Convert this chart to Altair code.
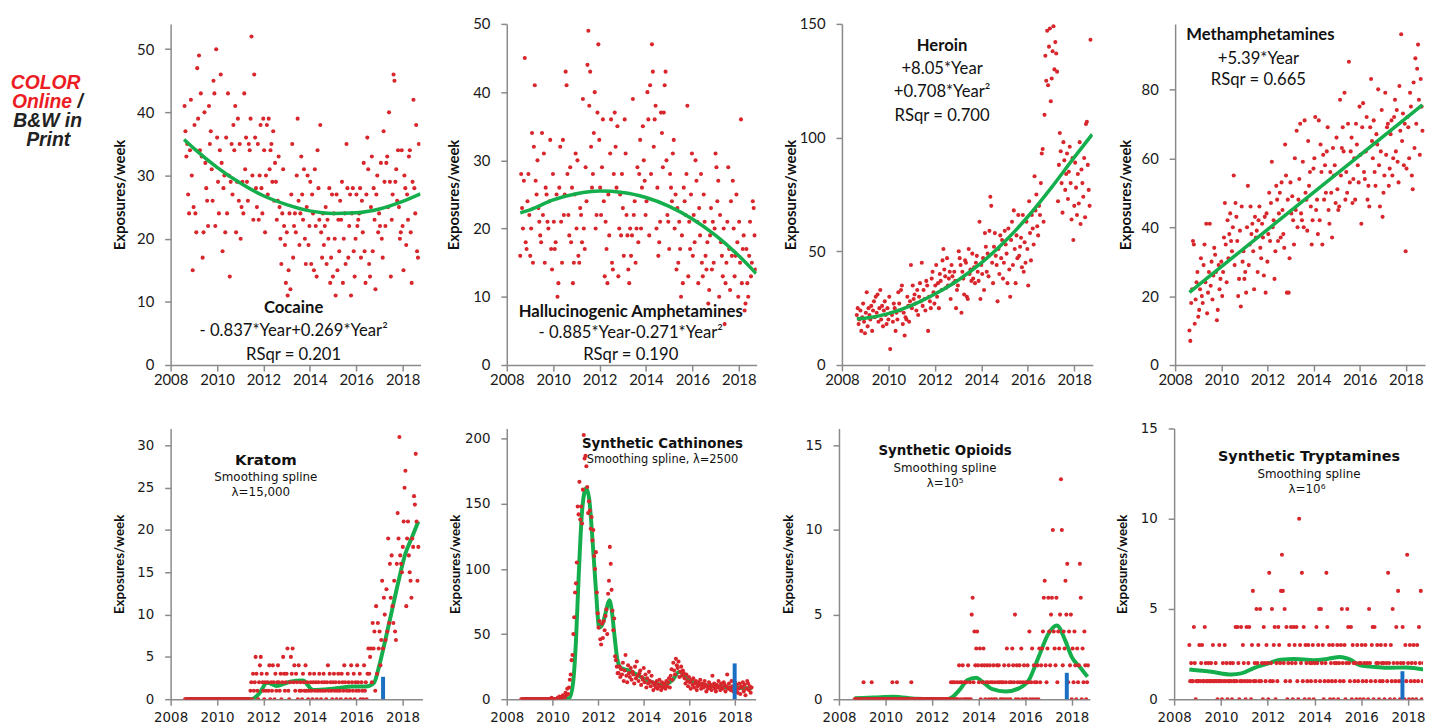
import altair as alt
import numpy as np
import pandas as pd

RED = "#d8262c"
GREEN = "#14ae4c"
BLUE = "#1b6fc2"
AXC = "#8a8a8a"

YEARS = list(range(2008, 2019))

# ---------------- weekly exposures (roughly bi-weekly) ----------------
cocaine = [
    41, 37, 33, 35, 27, 24, 34, 42, 30, 15, 25, 38, 24, 21, 47, 39, 49, 34, 43, 33, 17, 21, 40, 32, 28, 26,
    22, 41, 35, 37, 31, 26, 45, 43, 22, 50, 36, 29, 24, 34, 46, 32, 18, 28, 30, 21, 36, 24, 43, 30, 14, 29,
    35, 27, 38, 34, 41, 21, 29, 39, 26, 35, 20, 25, 29, 24, 43, 31, 36, 29, 26, 35, 34, 39, 52, 30, 23, 46,
    36, 28, 25, 35, 23, 30, 38, 28, 24, 39, 34, 21, 30, 38, 27, 39, 31, 34, 35, 29, 37, 26, 32, 29, 23, 26,
    33, 25, 20, 16, 24, 31, 22, 19, 13, 21, 11, 15, 24, 12, 27, 35, 17, 22, 24, 21, 30, 39, 26, 19, 24, 33,
    27, 23, 31, 20, 16, 25, 30, 19, 22, 29, 16, 27, 24, 15, 31, 22, 14, 34, 28, 23, 38, 21, 17, 24, 19, 22,
    25, 16, 23, 20, 28, 13, 17, 27, 14, 24, 20, 11, 27, 15, 23, 18, 26, 23, 29, 13, 20, 24, 16, 35, 28, 17,
    22, 27, 11, 24, 28, 18, 14, 20, 27, 22, 23, 24, 28, 17, 26, 21, 32, 18, 13, 27, 36, 31, 16, 14, 25, 33,
    18, 28, 23, 12, 27, 30, 21, 24, 22, 32, 20, 17, 37, 29, 22, 32, 33, 25, 40, 29, 14, 23, 27, 46, 45, 29,
    31, 26, 34, 25, 20, 21, 34, 22, 15, 30, 28, 19, 27, 23, 33, 34, 21, 13, 29, 42, 28, 24, 38, 18, 17, 35,
]
hallu = [
    16, 28, 23, 20, 27, 45, 18, 17, 24, 28, 22, 16, 20, 34, 15, 32, 41, 27, 25, 30, 23, 21, 19, 18, 34, 22,
    31, 15, 26, 25, 21, 20, 24, 33, 17, 14, 28, 21, 17, 18, 25, 10, 12, 26, 32, 21, 15, 33, 22, 25, 43, 41,
    28, 22, 19, 29, 18, 26, 12, 15, 25, 31, 20, 30, 16, 15, 23, 22, 18, 39, 20, 17, 29, 24, 44, 49, 38, 43,
    32, 26, 28, 34, 40, 20, 22, 37, 47, 33, 26, 22, 29, 36, 24, 13, 21, 17, 12, 25, 19, 31, 36, 15, 14, 28,
    37, 32, 26, 35, 13, 20, 25, 19, 28, 23, 16, 36, 31, 22, 19, 14, 12, 20, 16, 19, 39, 22, 24, 15, 20, 29,
    18, 28, 33, 20, 26, 35, 30, 27, 22, 24, 40, 36, 19, 41, 28, 47, 43, 32, 36, 38, 20, 26, 16, 18, 21, 37,
    34, 29, 37, 41, 43, 30, 22, 21, 17, 28, 26, 24, 31, 33, 20, 25, 14, 23, 15, 21, 17, 10, 19, 12, 26, 24,
    22, 28, 38, 13, 21, 17, 25, 31, 16, 22, 18, 30, 27, 21, 12, 23, 19, 28, 15, 13, 25, 21, 16, 14, 18, 9,
    11, 19, 23, 14, 21, 15, 20, 31, 29, 24, 27, 10, 22, 18, 16, 13, 20, 6, 12, 15, 21, 29, 17, 11, 24, 16,
    27, 20, 13, 16, 25, 18, 10, 21, 15, 36, 12, 17, 19, 8, 9, 17, 12, 10, 16, 21, 13, 15, 24, 23, 19, 14,
]
heroin = [
    22, 25, 18, 20, 24, 15, 21, 27, 19, 14, 23, 32, 17, 25, 22, 20, 26, 15, 24, 28, 21, 30, 23, 31, 19, 25,
    33, 20, 26, 17, 24, 28, 22, 18, 25, 20, 30, 7, 23, 22, 19, 27, 25, 15, 23, 20, 32, 27, 24, 33, 35, 18,
    23, 13, 21, 20, 30, 26, 19, 28, 44, 25, 35, 29, 31, 27, 24, 33, 22, 30, 36, 28, 45, 26, 33, 29, 24, 37,
    35, 15, 30, 28, 25, 38, 41, 32, 27, 35, 44, 30, 36, 25, 40, 37, 33, 46, 51, 42, 39, 34, 47, 35, 38, 41,
    29, 44, 39, 36, 41, 37, 25, 33, 35, 50, 47, 44, 23, 41, 38, 31, 46, 45, 30, 29, 51, 40, 42, 37, 49, 38,
    43, 36, 45, 48, 41, 37, 63, 29, 44, 40, 47, 33, 58, 52, 41, 49, 39, 59, 74, 70, 45, 36, 52, 58, 48, 44,
    28, 51, 40, 57, 47, 55, 38, 45, 59, 53, 49, 36, 60, 42, 30, 55, 63, 44, 68, 51, 36, 57, 47, 66, 48, 52,
    56, 43, 66, 41, 54, 45, 63, 51, 35, 72, 58, 46, 66, 60, 53, 83, 68, 75, 61, 57, 70, 66, 80, 93, 95, 63,
    110, 136, 125, 147, 123, 140, 148, 116, 126, 138, 149, 130, 142, 137, 129, 72, 88, 102, 94, 80, 67, 98, 90, 77, 84, 93,
    73, 85, 96, 80, 64, 91, 55, 70, 89, 78, 66, 84, 71, 98, 62, 86, 80, 74, 91, 65, 106, 107, 88, 77, 70, 143,
]
meth = [
    10, 7, 18, 22, 36, 35, 12, 19, 24, 27, 14, 16, 22, 31, 20, 18, 29, 35, 24, 41, 15, 21, 27, 41, 23, 30,
    19, 26, 34, 32, 27, 13, 16, 29, 22, 25, 30, 20, 27, 37, 47, 35, 24, 42, 31, 38, 44, 36, 33, 40, 55, 29,
    47, 43, 36, 20, 25, 39, 17, 46, 30, 33, 25, 27, 21, 40, 52, 29, 35, 46, 38, 41, 33, 22, 43, 37, 39, 27,
    42, 46, 34, 31, 41, 37, 26, 43, 21, 44, 30, 38, 50, 36, 47, 59, 40, 42, 25, 33, 52, 48, 36, 44, 50, 37,
    53, 45, 38, 34, 64, 55, 21, 48, 21, 31, 53, 44, 49, 42, 35, 60, 45, 68, 40, 48, 54, 70, 44, 42, 59, 40,
    71, 50, 48, 39, 65, 52, 56, 46, 35, 42, 57, 60, 72, 45, 48, 38, 71, 42, 64, 56, 35, 61, 48, 58, 50, 62,
    69, 45, 41, 56, 50, 37, 63, 55, 58, 47, 66, 51, 45, 46, 77, 55, 63, 69, 62, 79, 48, 56, 50, 70, 88, 53,
    62, 66, 47, 54, 60, 48, 70, 64, 58, 53, 75, 61, 41, 69, 76, 56, 54, 62, 72, 48, 52, 46, 69, 83, 65, 60,
    71, 56, 52, 67, 64, 80, 58, 46, 62, 74, 43, 50, 55, 79, 61, 69, 70, 52, 57, 67, 71, 55, 60, 72, 77, 62,
    74, 59, 53, 81, 68, 96, 65, 73, 58, 70, 33, 57, 72, 69, 60, 79, 75, 55, 51, 82, 63, 89, 70, 86, 93, 77, 61, 83, 75, 68,
]
kratom = [
    0, 0, 0, 0, 0, 0, 0, 0, 0, 0, 0, 0, 0, 0, 0, 0, 0, 0, 0, 0, 0, 0, 0, 0, 0,
    0, 0, 0, 0, 0, 0, 0, 0, 0, 0, 0, 0, 0, 0, 0, 0, 0, 0, 0, 0, 0, 0, 0, 0, 0,
    0, 0, 0, 0, 0, 0, 0, 0, 0, 0, 0, 0, 0, 0, 0, 0, 0, 0, 0, 0, 0, 0, 0, 0, 0,
    0, 1, 2, 0, 3, 1, 2, 5, 3, 1, 0, 2, 4, 5, 3, 2, 1, 0, 2, 1, 3, 2, 1, 4, 0, 2,
    1, 4, 2, 0, 3, 1, 2, 4, 2, 1, 3, 0, 2, 5, 3, 1, 2, 3, 6, 1, 0, 2, 5, 3, 6, 2,
    4, 1, 3, 2, 0, 4, 1, 2, 1, 0, 3, 2, 1, 4, 1, 2, 0, 1, 3, 2, 1, 0, 2, 3, 1, 2,
    0, 1, 2, 3, 1, 0, 2, 1, 3, 2, 1, 0, 2, 4, 1, 3, 2, 1, 0, 2, 3, 1, 2, 0, 1, 3,
    2, 1, 0, 3, 2, 1, 4, 2, 0, 1, 3, 2, 1, 0, 4, 2, 1, 3, 0, 2, 1, 4, 2, 1, 3, 0,
    2, 1, 0, 4, 1, 2, 0, 3,
    6, 3, 5, 6, 2, 9, 6, 8, 1, 11, 3, 9, 6, 8, 4, 7, 14, 6, 12, 10, 7, 13, 8, 19, 9,
    16, 12, 17, 11, 9, 14, 8, 7, 16, 22, 19, 31, 17, 16, 15, 18, 21, 25, 27, 11, 19,
    21, 17, 15, 14, 12, 19, 18, 24, 23, 29, 21, 14, 18,
]
cathinones = [
    0, 0, 0, 0, 0, 0, 0, 0, 0, 0, 0, 0, 0, 0, 0, 0, 0, 0, 0, 0, 0,
    0, 0, 0, 0, 0, 0, 0, 0, 0, 0, 0, 0, 0, 0, 1, 0, 0, 0, 0, 0,
    0, 1, 0, 2, 1, 0, 1, 3, 2, 1, 5, 3, 8, 4,
    9, 15, 19, 30, 34,
    50, 63, 82, 89, 105, 148, 142,
    167, 138, 148, 135, 161,
    203, 185, 187, 179, 163, 143,
    152, 145, 131, 140, 122, 130, 110, 100,
    113, 82, 66, 55, 60, 46, 42,
    58, 47, 60, 53, 64, 69, 50, 81,
    91, 117, 104, 84, 68, 53,
    62, 33, 30, 25, 20,
    20, 25, 17, 23, 19, 28, 14, 22, 34, 18, 13, 26, 20, 17, 24, 15, 21, 19, 12, 25, 16,
    29, 18, 14, 20, 22, 11, 17, 15, 24, 13, 19, 9, 16, 12, 21, 14, 10, 18, 13, 7, 11,
    12, 9, 14, 8, 11, 15, 10, 7, 13, 9, 12, 11, 8, 14, 10, 13, 16, 9,
    18, 23, 15, 28, 22, 19, 31, 26, 24, 29, 17, 21, 25, 18, 22, 20,
    16, 12, 19, 14, 10, 17, 13, 8, 15, 11, 16, 9, 12, 14, 7, 10, 13, 11, 15, 8, 12, 10, 9, 14, 11, 6,
    10, 8, 13, 9, 11, 7, 18, 10, 12, 8, 6, 11, 9, 14, 10, 7, 12, 9, 8, 13, 11, 6, 10, 19, 8, 12, 9, 7,
    14, 10, 6, 9, 13, 7, 11, 5, 8, 12, 4, 10, 9, 13, 6, 11, 3, 8, 14, 12, 7, 10, 5, 9,
]
opioids = [
    0, 0, 0, 0, 0, 0, 0, 0, 0, 0, 1, 0, 0, 0, 0, 0, 0, 0, 0, 1, 0, 0, 0, 0, 0, 0,
    0, 0, 0, 0, 0, 0, 0, 0, 0, 0, 0, 0, 0, 0, 0, 0, 1, 0, 0, 0, 0, 1, 0, 0, 0, 0,
    0, 0, 0, 0, 0, 0, 0, 0, 0, 0, 0, 1, 0, 0, 0, 0, 0, 0, 0, 0, 0, 0, 0, 0, 0, 0,
    0, 0, 0, 0, 0, 0, 0, 0, 0, 0, 0, 0, 0, 0, 0, 0, 0, 0, 0, 0, 0, 0, 0, 0, 0, 0, 0, 0, 0,
    1, 0, 1, 0, 1, 0, 0, 1, 0, 2, 1, 0, 1, 2, 0, 1, 0, 1, 0, 2, 0, 1, 0,
    5, 6, 1, 4, 2, 3, 4, 2,
    1, 3, 0, 2, 1, 3, 2, 0, 1, 2, 1, 0, 2, 1, 0, 1, 2, 0, 1, 0, 2, 1, 2, 1, 0, 1,
    0, 1, 2, 0, 1, 3, 0, 2, 1, 0, 1, 3, 2, 1, 5, 0, 2, 1, 0, 2, 1, 3, 0, 1, 2, 0,
    1, 0, 2, 1, 4, 0, 1, 3, 0, 2, 1, 0, 1, 2, 0, 3, 1, 2,
    3, 4, 6, 7, 2, 1, 3, 6, 4, 2, 5, 6, 10, 4, 3, 2, 6, 1, 4, 3, 5, 13, 10, 2, 4, 3, 7, 5, 8, 1, 4,
    2, 5, 0, 3, 1, 4, 2, 0, 3, 1, 2, 8, 6, 0, 3, 1, 4, 2, 0, 1, 2,
]
tryptamines = [
    3, 1, 2, 1, 1, 4, 2, 0, 1, 1, 1, 3, 1, 2, 3, 1, 1, 4, 2, 1, 1, 2, 1, 1, 2, 1,
    3, 1, 1, 2, 1, 0, 1, 3, 1, 1, 0, 2, 1, 3, 1, 2, 0, 1, 1, 2, 1, 0, 2, 1, 1, 4,
    1, 4, 2, 0, 1, 4, 1, 3, 2, 1, 0, 4, 1, 2, 4, 1, 0, 3, 6, 1, 2, 1, 5, 2, 3, 1,
    5, 1, 2, 0, 4, 2, 1, 3, 2, 0, 7, 1, 2, 5, 1, 3, 4, 0, 2, 1, 4, 3, 2, 6, 8, 6,
    2, 5, 1, 4, 0, 2, 3, 1, 4, 2, 0, 4, 3, 2, 4, 1, 0, 10, 3, 2, 7, 1, 4, 0, 3, 2,
    1, 3, 0, 2, 1, 2, 3, 0, 2, 1, 4, 2, 3, 5, 1, 5, 2, 3, 0, 1, 2, 7, 4, 1, 3, 0,
    2, 1, 3, 0, 2, 1, 2, 3, 0, 2, 1, 3, 5, 2, 1, 3, 0, 2, 5, 4, 2, 1, 4, 0, 3, 2,
    1, 2, 0, 3, 1, 2, 0, 2, 3, 1, 0, 2, 3, 1, 2, 0, 5, 2, 1, 3, 4, 0, 4, 1, 2, 3,
    2, 0, 1, 3, 2, 1, 2, 0, 3, 2, 1, 7, 2, 0, 3, 1, 5, 2, 0, 1, 4, 2, 6, 1, 0, 2,
    1, 4, 2, 0, 3, 1, 8, 2, 0, 3, 1, 2, 0, 3, 1, 2, 0, 3, 1, 4, 2, 6, 0, 1, 2, 0,
]

# ---------------- fitted curves ----------------
coc_fx = [2008.58, 2009, 2010, 2011, 2012, 2013, 2014, 2015, 2016, 2017, 2018, 2018.77]
coc_fy = [35.7, 34.3, 31.3, 28.8, 26.8, 25.4, 24.4, 24.0, 24.1, 24.7, 25.9, 27.1]
hal_fx = [2008.58, 2009, 2010, 2011, 2012, 2013, 2014, 2015, 2016, 2017, 2018, 2018.75]
hal_fy = [22.3, 22.75, 24.2, 25.1, 25.5, 25.3, 24.55, 23.25, 21.4, 19.0, 16.0, 13.4]
her_fx = [2008.64, 2009, 2010, 2011, 2012, 2013, 2014, 2015, 2016, 2017, 2018, 2018.77]
her_fy = [20.3, 20.6, 22.6, 26.2, 31.2, 37.3, 44.9, 54.2, 65.2, 77.8, 91.3, 101.4]
met_fx = [2008.62, 2018.72]
met_fy = [21.1, 75.5]
kra_fx = [2008.65, 2011.5, 2011.8, 2012.16, 2012.58, 2013.15, 2013.7, 2014.14, 2015.0, 2015.85,
          2016.41, 2016.77, 2016.98, 2017.19, 2017.48, 2017.83, 2018.11, 2018.4, 2018.68]
kra_fy = [0, 0, 0.6, 1.95, 1.56, 2.07, 2.2, 1.1, 1.25, 1.5, 1.5, 1.95, 3.8, 6.2, 9.7, 14, 17.1, 19.1, 21]
cat_fx = [2008.65, 2010.5, 2010.74, 2010.9, 2011.03, 2011.15, 2011.3, 2011.47, 2011.6, 2011.76, 2011.9,
          2012.05, 2012.2, 2012.35, 2012.49, 2012.6, 2012.71, 2012.85, 2013.0, 2013.36, 2014.09, 2014.82,
          2015.26, 2015.55, 2015.99, 2016.57, 2017.74, 2018.75]
cat_fy = [0, 0, 0.8, 12, 45, 95, 145, 162, 155, 121, 85, 55, 58, 68, 76, 68, 50, 30, 24, 22, 15, 11,
          14.7, 21, 14.7, 11, 9, 8.4]
opi_fx = [2008.67, 2009.5, 2010.34, 2011.33, 2012.0, 2012.61, 2012.9, 2013.18, 2013.53, 2013.89, 2014.17,
          2014.6, 2015.16, 2015.73, 2016.16, 2016.58, 2017.0, 2017.36, 2017.72, 2018.0, 2018.35, 2018.68]
opi_fy = [0.06, 0.1, 0.15, 0.02, 0, 0, 0.15, 0.55, 1.13, 1.27, 1.03, 0.59, 0.45, 0.64, 1.13, 2.5, 3.87,
          4.36, 3.48, 2.5, 1.9, 1.33]
try_fx = [2008.65, 2009.6, 2010.44, 2010.87, 2011.43, 2012.0, 2012.56, 2013.13, 2013.97, 2014.54, 2015.1,
          2015.53, 2015.95, 2016.52, 2017.08, 2017.93, 2018.7]
try_fy = [1.65, 1.52, 1.37, 1.43, 1.74, 1.97, 2.19, 2.23, 2.16, 2.23, 2.34, 2.19, 1.88, 1.79, 1.74, 1.76, 1.64]

# scheduling markers (blue bars): x, top
kra_bar = [2017.16, 2.65]
cat_bar = [2017.98, 27.5]
opi_bar = [2017.79, 1.56]
try_bar = [2017.76, 1.55]


def txt(s, x, y, size, bold=False, font="Lato", color="#111111", align="center", italic=False):
    kw = dict(font=font, fontSize=size, fontWeight="bold" if bold else "normal", color=color,
              align=align, baseline="middle")
    if italic:
        kw["fontStyle"] = "italic"
    return alt.Chart(pd.DataFrame({"t": [s]})).mark_text(**kw).encode(
        x=alt.value(x), y=alt.value(y), text="t:N")


def panel(vals, start, end, fx, fy, xdom, ydom, yvals, ystep, w, h, top, tpad, texts, bar=None):
    lab_font = "Lato" if top else "DejaVu Sans"
    lab_size = 15 if top else 13.5
    xvals = YEARS if top else YEARS[::2]
    xaxis = alt.Axis(values=xvals, format="d", labelExpr="datum.value % 2 == 0 ? datum.label : ''",
                     grid=False, domainColor=AXC, domainWidth=1.5, tickColor=AXC, tickWidth=1.5,
                     tickSize=6, labelPadding=2 if top else 5, labelFont=lab_font, labelFontSize=lab_size,
                     labelColor="#1a1a1a", labelFlush=False, labelOverlap=False)
    yaxis = alt.Axis(values=yvals, title="Exposures/week",
                     labelExpr=f"datum.value % {ystep} == 0 ? datum.label : ''",
                     grid=False, domainColor=AXC, domainWidth=1.5, tickColor=AXC, tickWidth=1.5,
                     tickSize=6, labelPadding=11, labelFont=lab_font, labelFontSize=lab_size,
                     labelColor="#1a1a1a", labelFlush=False, labelOverlap=False,
                     titleFont="Lato", titleFontWeight="bold", titleFontSize=15 if top else 13.5,
                     titleColor="#111111", titlePadding=tpad)
    xs = np.linspace(start, end, len(vals))
    pts = alt.Chart(pd.DataFrame({"x": xs, "y": vals})).mark_circle(
        size=17, color=RED, opacity=1, clip=True).encode(
        x=alt.X("x:Q", scale=alt.Scale(domain=xdom, nice=False, zero=False), axis=xaxis, title=None),
        y=alt.Y("y:Q", scale=alt.Scale(domain=ydom, nice=False), axis=yaxis))
    curve = alt.Chart(pd.DataFrame({"x": fx, "y": fy})).mark_line(
        color=GREEN, strokeWidth=3.5 if top else 4, interpolate="monotone", clip=True).encode(
        x="x:Q", y="y:Q")
    layers = [pts, curve] if top else [curve, pts]
    if bar is not None:
        layers.append(alt.Chart(pd.DataFrame({"x": [bar[0]], "y0": [0], "y1": [bar[1]]})).mark_rule(
            color=BLUE, strokeWidth=4).encode(x="x:Q", y="y0:Q", y2="y1:Q"))
    layers += texts
    return alt.layer(*layers).properties(width=w, height=h)


TF = "Lato"
BF = "DejaVu Sans"
TS = 16.8

p1 = panel(cocaine, 2008.6, 2018.7, coc_fx, coc_fy, [2008, 2018.77], [0, 54], list(range(0, 51, 10)), 10,
           252, 344, True, 9,
           [txt("Cocaine", 124, 287, TS, True, TF),
            txt("- 0.837*Year+0.269*Year²", 124, 310, TS, False, TF),
            txt("RSqr = 0.201", 124, 334, TS, False, TF)])
p2 = panel(hallu, 2008.58, 2018.72, hal_fx, hal_fy, [2008, 2018.77], [0, 50], list(range(0, 51, 10)), 10,
           252, 344, True, 11.6,
           [txt("Hallucinogenic Amphetamines", 125, 291, TS, True, TF),
            txt("- 0.885*Year-0.271*Year²", 125, 312, TS, False, TF),
            txt("RSqr = 0.190", 125, 334, TS, False, TF)])
p3 = panel(heroin, 2008.64, 2018.7, her_fx, her_fy, [2008, 2018.8], [0, 150], [0, 50, 100, 150], 50,
           253, 344, True, 1,
           [txt("Heroin", 101, 22, TS, True, TF),
            txt("+8.05*Year", 101, 46, TS, False, TF),
            txt("+0.708*Year²", 101, 69, TS, False, TF),
            txt("RSqr = 0.700", 101, 93, TS, False, TF)])
p4 = panel(meth, 2008.62, 2018.72, met_fx, met_fy, [2008, 2018.83], [0, 99], list(range(0, 91, 10)), 20,
           252, 344, True, 7.6,
           [txt("Methamphetamines", 86, 11, TS, True, TF),
            txt("+5.39*Year", 84, 35, TS, False, TF),
            txt("RSqr = 0.665", 84, 57, TS, False, TF)])

p5 = panel(kratom, 2008.62, 2018.68, kra_fx, kra_fy, [2008, 2018.86], [0, 32], list(range(0, 31, 5)), 5,
           254, 273, False, 10.7,
           [txt("Kratom", 96, 32, 15, True, BF),
            txt("Smoothing spline", 96, 49, 12, False, BF),
            txt("λ=15,000", 91, 64, 12, False, BF)], kra_bar)
p6 = panel(cathinones, 2008.63, 2018.72, cat_fx, cat_fy, [2008, 2018.9], [0, 208], list(range(0, 201, 50)), 50,
           251, 273, False, 2,
           [txt("Synthetic Cathinones", 157, 16, 13.5, True, BF),
            txt("Smoothing spline, λ=2500", 157, 32, 11.5, False, BF)], cat_bar)
p7 = panel(opioids, 2008.67, 2018.7, opi_fx, opi_fy, [2008, 2018.78], [0, 16], [0, 5, 10, 15], 5,
           253, 273, False, 9.7,
           [txt("Synthetic Opioids", 107, 23, 13.5, True, BF),
            txt("Smoothing spline", 107, 40, 12, False, BF),
            txt("λ=10⁵", 107, 55, 12, False, BF)], opi_bar)
p8 = panel(tryptamines, 2008.65, 2018.7, try_fx, try_fy, [2008, 2018.64], [0, 15], [0, 5, 10, 15], 5,
           251, 273, False, 10.6,
           [txt("Synthetic Tryptamines", 136, 29, 14.5, True, BF),
            txt("Smoothing spline", 136, 46, 12, False, BF),
            txt("λ=10⁶", 134, 61, 12, False, BF)], try_bar)

CRED = "#ec1c24"
note = alt.layer(
    txt("COLOR", 34, 60, 19.5, True, "Liberation Sans", CRED, "center", True),
    txt("Online", 0, 79, 19.5, True, "Liberation Sans", CRED, "left", True),
    txt("/", 66, 79, 19.5, True, "Liberation Sans", "#222222", "left", True),
    txt("B&W in", 36, 98, 19.5, True, "Liberation Sans", "#222222", "center", True),
    txt("Print", 36.5, 117, 19.5, True, "Liberation Sans", "#222222", "center", True),
).properties(width=81, height=150)

row1 = alt.hconcat(p1, p2, p3, p4, spacing=26)
row2 = alt.hconcat(p5, p6, p7, p8, spacing=26)
grid = alt.vconcat(row1, row2, spacing=34)

chart = alt.hconcat(note, grid, spacing=20).properties(
    padding={"left": 2, "top": 6, "right": 0, "bottom": 0}
).configure_view(stroke=None)

chart.save("out.html", embed_options={"renderer": "svg", "actions": False})
